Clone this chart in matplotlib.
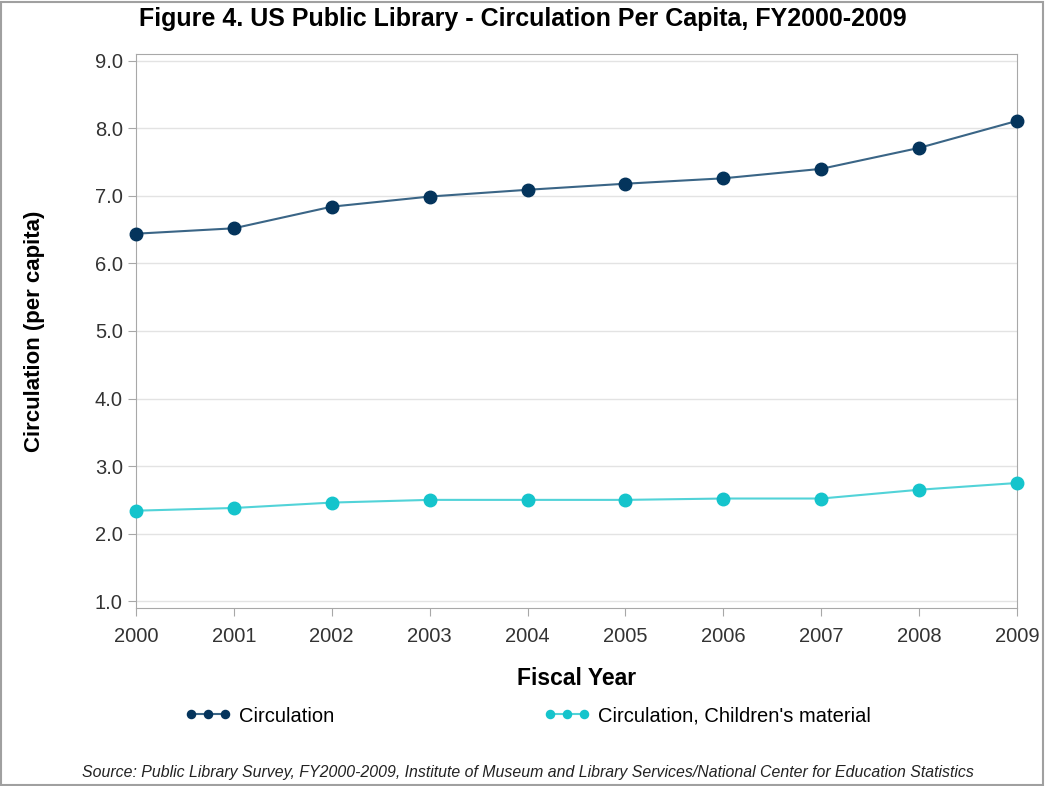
import matplotlib
matplotlib.use("Agg")
import matplotlib.pyplot as plt
from matplotlib.patches import Rectangle

plt.rcParams['font.family'] = ['Liberation Sans', 'DejaVu Sans']

# data
years = [2000, 2001, 2002, 2003, 2004, 2005, 2006, 2007, 2008, 2009]
circulation = [6.44, 6.52, 6.84, 6.99, 7.09, 7.18, 7.26, 7.40, 7.71, 8.11]
children = [2.34, 2.38, 2.46, 2.50, 2.50, 2.50, 2.52, 2.52, 2.65, 2.75]
yticks = [1.0, 2.0, 3.0, 4.0, 5.0, 6.0, 7.0, 8.0, 9.0]

fig = plt.figure(figsize=(10.45, 7.86), dpi=100)
ax = fig.add_axes([0.1301, 0.2265, 0.8431, 0.7048])

ax.plot(years, circulation, color='#3a6586', lw=1.5, marker='o', ms=9,
        mfc='#04345c', mec='#04345c', label='Circulation', clip_on=False, zorder=3)
ax.plot(years, children, color='#52d3d8', lw=1.5, marker='o', ms=9,
        mfc='#15c4cc', mec='#15c4cc', label="Circulation, Children's material",
        clip_on=False, zorder=3)

ax.set_xlim(2000, 2009)
ax.set_ylim(0.9, 9.1)
ax.set_xticks(years)
ax.set_yticks(yticks)
ax.set_yticklabels([f"{v:.1f}" for v in yticks])
ax.grid(axis='y', color='#e3e3e3', lw=1)
ax.set_axisbelow(True)
for s in ax.spines.values():
    s.set_color('#a8a8a8')
ax.tick_params(colors='#a8a8a8', labelcolor='#333333', labelsize=14.5, length=6)
ax.tick_params(axis='x', pad=8)

ax.set_xlabel('Fiscal Year', fontsize=16.5, fontweight='bold', labelpad=15)
ax.set_ylabel('Circulation (per capita)', fontsize=16, fontweight='bold', labelpad=36)

fig.text(0.5, 0.976, 'Figure 4. US Public Library - Circulation Per Capita, FY2000-2009',
         ha='center', va='center', fontsize=18, fontweight='bold')

fig.legend(loc='center', bbox_to_anchor=(0.505, 0.089), ncol=2, frameon=False,
           numpoints=3, fontsize=14.5, handlelength=2.3, handletextpad=0.4,
           columnspacing=10.4, markerscale=0.65)

fig.text(0.505, 0.017, 'Source: Public Library Survey, FY2000-2009, Institute of Museum and '
         'Library Services/National Center for Education Statistics',
         ha='center', va='center', fontsize=11.4, style='italic', color='#222222')

fig.patches.append(Rectangle((0.001, 0.001), 0.997, 0.997, transform=fig.transFigure,
                             fill=False, edgecolor='#a0a0a0', lw=1.5))

fig.savefig('out.png', dpi=100)
